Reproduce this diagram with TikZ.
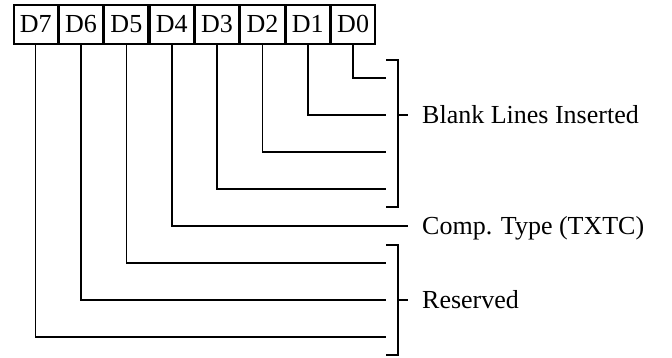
\documentclass[tikz,border=0pt]{standalone}
\usepackage{fontspec}
\setmainfont{Liberation Serif}
\usetikzlibrary{positioning}
\newcommand\bitfont{\fontsize{26}{30}\selectfont}
\tikzset{
  bitbox/.style={draw,line width=1.6pt,minimum width=43.75pt,minimum height=39pt,
                 inner sep=0pt,font=\bitfont},
  bitline/.style={line width=1.6pt},
  groupname/.style={anchor=west,inner sep=0pt,text height=17.2pt,text depth=0pt,
                    font=\bitfont}}

\begin{document}
\begin{tikzpicture}[x=1pt,y=-1pt]
  \def\xl{13}                   % left edge of register
  \def\yt{4}                    % top edge of register
  \def\yz{78}                   % height of line D0
  \def\dy{37}                   % distance between lines
  \def\xe{386}                  % end of lines
  \def\xb{398}                  % bracket
  \def\xt{408}                  % end of ticks
  \def\xn{422}                  % start of texts
  \def\hb{18}                   % overhang of bracket
  \useasboundingbox (0,0) rectangle (672,357);
  
  % REGISTER
  \node[bitbox,anchor=north west] (D7) at (\xl,\yt) {D7};
  \foreach \i [evaluate={\j=int(\i+1);}] in {6,...,0}{
    \node[bitbox,right=0pt of D\j] (D\i) {D\i};
  }
  
  % COORDINATES
  \foreach \i [evaluate={\y=\yz+\i*\dy;}] in {0,...,7}{
    \coordinate (E\i) at (\xe,\y);
    \coordinate (T\i) at (\xt,\y);
  }
  \coordinate (B1T) at (\xb,{\yz-\hb});
  \coordinate (B1B) at (\xb,{\yz+3*\dy+\hb});
  \coordinate (B2T) at (\xb,{\yz+5*\dy-\hb});
  \coordinate (B2B) at (\xb,{\yz+7*\dy+\hb});
  
  % LINES
  \foreach \i in {0,1,2,3,5,6,7}{
    \draw[bitline] (D\i.south) |- (E\i);
  }
  \draw[bitline] (D4.south) |- (T4);
  
  % BRACKETS
  \draw[bitline] (B1T -| E0) -- (B1T) -- (B1B) -- (B1B -| E0);
  \draw[bitline] (B2T -| E0) -- (B2T) -- (B2B) -- (B2B -| E0);
  \draw[bitline] (B1T |- T1) -- (T1);
  \draw[bitline] (B2T |- T6) -- (T6);
  
  % TEXTS
  \node[groupname] (blank) at (\xn,{\yz+1*\dy}) {Blank Lines Inserted};
  \node[groupname] (comp)  at (\xn,{\yz+4*\dy}) {Comp. Type (TXTC)};
  \node[groupname] (resv)  at (\xn,{\yz+6*\dy}) {Reserved};
  
\end{tikzpicture}
\end{document}
